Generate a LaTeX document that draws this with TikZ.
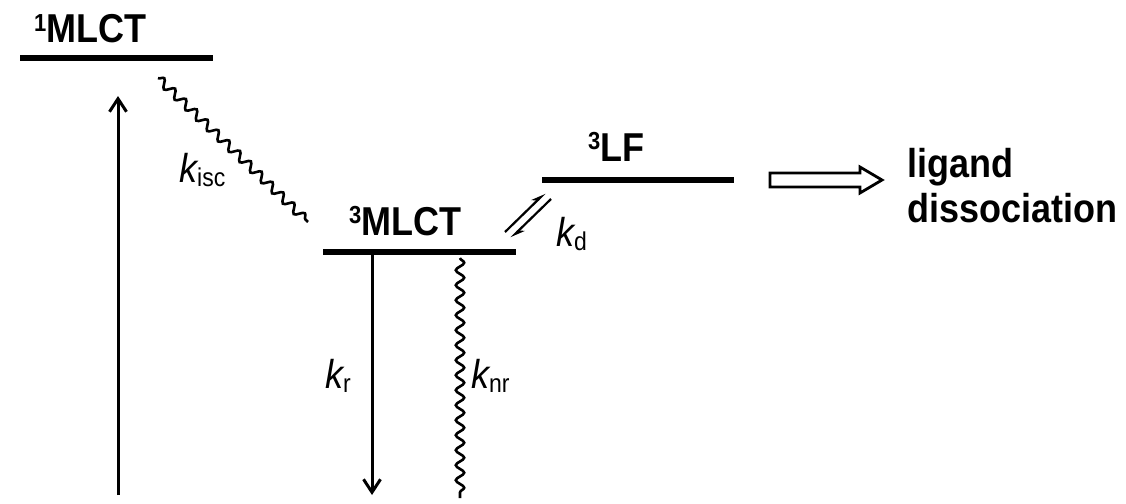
\documentclass[tikz,border=0pt]{standalone}
\usepackage{fontspec}
\setmainfont{Liberation Sans}
\usetikzlibrary{decorations.pathmorphing,arrows.meta}
\newcommand{\supnum}[1]{\raisebox{10pt}{\fontsize{22}{22}\selectfont #1}}
\newcommand{\rsub}[1]{\raisebox{-4pt}{\fontsize{23}{23}\selectfont\upshape #1}}
\newcommand{\tall}[1]{\scalebox{1}[1.12]{#1}}
\begin{document}
\begin{tikzpicture}[x=1pt,y=-1pt,
  level/.style={line width=5.5pt},
  statelab/.style={font=\fontsize{36}{40}\selectfont\bfseries, inner sep=0pt, anchor=base west},
  ratelab/.style={font=\fontsize{36}{40}\selectfont\itshape, inner sep=0pt, anchor=base west},
  prodlab/.style={font=\fontsize{36}{40}\selectfont\bfseries, inner sep=0pt, anchor=base west},
  radiative/.style={line width=3pt, -{Straight Barb[length=13pt,width=17pt,line width=3pt]}},
  wave/.style={line width=2.6pt, decorate, decoration={snake, amplitude=4.2pt, segment length=15pt}},
  eqarrow/.style={line width=2.2pt, -{Stealth[harpoon,length=12pt,width=9pt]}},
  blockarrow/.style={line width=2.8pt, line join=miter}
]
\useasboundingbox (0,0) rectangle (1126,503);

% levels
\coordinate (s1l) at (20,58);  \coordinate (s1r) at (213,58);
\coordinate (t1l) at (323,252); \coordinate (t1r) at (516,252);
\coordinate (lfl) at (542,180); \coordinate (lfr) at (734,180);
\draw[level] (s1l) -- (s1r);
\draw[level] (t1l) -- (t1r);
\draw[level] (lfl) -- (lfr);

% state labels
\node[statelab] (s1lab) at (34,43) {\tall{\supnum{1}MLCT}};
\node[statelab] (t1lab) at (349,235) {\tall{\supnum{3}MLCT}};
\node[statelab] (lflab) at (588,161) {\tall{\supnum{3}LF}};

% absorption arrow
\coordinate (absb) at (118,495);
\coordinate (abst) at (118,96);
\draw[radiative] (absb) -- (abst);

% ISC
\coordinate (iscs) at (158,78);
\coordinate (isce) at (308,222);
\draw[wave] (iscs) -- (isce);
\node[ratelab] (kisc) at (179,182) {\tall{k\rsub{isc}}};

% radiative decay
\coordinate (krs) at (372,252);
\coordinate (kre) at (372,495);
\draw[radiative] (krs) -- (kre);
\node[ratelab] (kr) at (325,388) {\tall{k\rsub{r}}};

% nonradiative decay
\coordinate (knrs) at (460,258);
\coordinate (knre) at (460,498);
\draw[wave] (knrs) -- (knre);
\node[ratelab] (knr) at (471,388) {\tall{k\rsub{nr}}};

% equilibrium
\coordinate (eqa1) at (505,232); \coordinate (eqa2) at (545,193);
\coordinate (eqb1) at (551,199); \coordinate (eqb2) at (511,238);
\draw[eqarrow] (eqa1) -- (eqa2);
\draw[eqarrow] (eqb1) -- (eqb2);
\node[ratelab] (kd) at (556,246) {\tall{k\rsub{d}}};

% block arrow to ligand dissociation
\draw[blockarrow] (770,173) -- (860,173) -- (860,167) -- (882,180) -- (860,193) -- (860,187) -- (770,187) -- cycle;
\node[prodlab] (lig) at (907,177) {\tall{ligand}};
\node[prodlab] (dis) at (907,222) {\tall{dissociation}};
\end{tikzpicture}
\end{document}
